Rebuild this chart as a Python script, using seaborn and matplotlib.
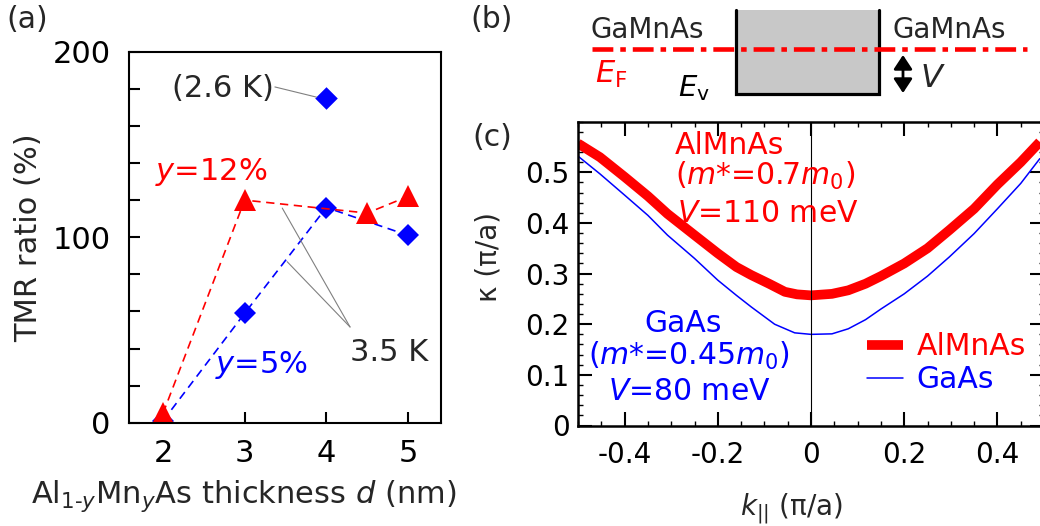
import matplotlib
matplotlib.use("Agg")
import matplotlib.pyplot as plt
import seaborn as sns
from matplotlib.ticker import MultipleLocator, FixedLocator
from matplotlib.patches import Rectangle

# ---------------- data ----------------
# (a) TMR ratio vs Al(1-y)Mn(y)As thickness
d_y5 = [2, 3, 4, 5]
tmr_y5 = [1, 59, 116, 101]
d_y12 = [2, 3, 4.5, 5]
tmr_y12 = [5, 120, 113, 122]
d_2p6K = [4]
tmr_2p6K = [175]

# (c) kappa vs k_parallel
k_almnas = [-0.5, -0.453, -0.4, -0.35, -0.308, -0.25, -0.2, -0.16, -0.128, -0.09,
            -0.056, -0.03, 0.0, 0.045, 0.08, 0.117, 0.15, 0.2, 0.25, 0.297,
            0.35, 0.4, 0.45, 0.491]
kappa_almnas = [0.557, 0.530, 0.491, 0.453, 0.418, 0.376, 0.340, 0.313, 0.297, 0.280,
                0.264, 0.259, 0.257, 0.260, 0.267, 0.280, 0.295, 0.320, 0.350, 0.386,
                0.428, 0.476, 0.520, 0.560]
k_gaas = [-0.5, -0.453, -0.4, -0.35, -0.308, -0.25, -0.2, -0.16, -0.128, -0.078,
          -0.035, 0.0, 0.045, 0.08, 0.117, 0.15, 0.2, 0.25, 0.297, 0.35,
          0.4, 0.45, 0.491]
kappa_gaas = [0.532, 0.497, 0.455, 0.415, 0.376, 0.330, 0.287, 0.257, 0.234, 0.200,
              0.183, 0.180, 0.181, 0.191, 0.209, 0.230, 0.260, 0.295, 0.333, 0.379,
              0.428, 0.478, 0.527]

a_xticks = [2, 3, 4, 5]
a_yticks = [0, 100, 200]
c_xticks = [-0.4, -0.2, 0, 0.2, 0.4]
c_xticklabels = ["-0.4", "-0.2", "0", "0.2", "0.4"]
c_yticks = [0, 0.1, 0.2, 0.3, 0.4, 0.5]
c_yticklabels = ["0", "0.1", "0.2", "0.3", "0.4", "0.5"]

# ---------------- style ----------------
sns.set_style("ticks")
plt.rcParams["font.family"] = ["DejaVu Sans"]
plt.rcParams["mathtext.fontset"] = "dejavusans"
plt.rcParams["axes.unicode_minus"] = False
plt.rcParams["lines.scale_dashes"] = False
plt.rcParams["axes.edgecolor"] = "black"
plt.rcParams["xtick.color"] = "black"
plt.rcParams["ytick.color"] = "black"

W, H = 1040, 526
fig = plt.figure(figsize=(W / 100, H / 100), dpi=100)


def box(l, t, r, b):
    return [l / W, 1 - b / H, (r - l) / W, (b - t) / H]


axa = fig.add_axes(box(128.7, 51.7, 440.7, 422.7))
axc = fig.add_axes(box(578, 121.7, 1044, 425.5))
axb = fig.add_axes([0, 0, 1, 1], zorder=-1)
axb.set_xlim(0, W)
axb.set_ylim(H, 0)
axb.axis("off")

# ---------------- panel (a) ----------------
sns.lineplot(x=d_y5, y=tmr_y5, ax=axa, color="blue", lw=1.2,
             linestyle=(0, (6, 4)), marker="D", markersize=11.5,
             markeredgecolor="blue", markeredgewidth=0, sort=False, estimator=None)
sns.lineplot(x=d_y12, y=tmr_y12, ax=axa, color="red", lw=1.2,
             linestyle=(0, (6, 4)), marker="^", markersize=16.5,
             markeredgecolor="red", markeredgewidth=0, sort=False, estimator=None)
sns.scatterplot(x=d_2p6K, y=tmr_2p6K, ax=axa, marker="D", s=132, color="blue",
                linewidth=0, zorder=3)

axa.set_xlim(1.58, 5.4)
axa.set_ylim(0, 200)
axa.xaxis.set_major_locator(FixedLocator(a_xticks))
axa.yaxis.set_major_locator(FixedLocator(a_yticks))
axa.yaxis.set_minor_locator(MultipleLocator(20))
axa.tick_params(which="both", direction="in", length=8, width=1.5,
                labelsize=22, top=False, right=False)
axa.tick_params(axis="y", which="both", pad=13)
axa.tick_params(axis="x", which="both", pad=12)
for s in axa.spines.values():
    s.set_linewidth(1.5)
axa.set_ylabel("TMR ratio (%)", fontsize=22)
axa.yaxis.set_label_coords(-0.275, 0.5)
axa.set_xlabel(r"Al$_{1\text{-}y}$Mn$_y$As thickness $d$ (nm)", fontsize=22)
axa.xaxis.set_label_coords(0.37, -0.15)

axa.text(2.73, 180.4, "(2.6 K)", ha="center", va="center", fontsize=22)
axa.annotate("", xy=(3.88, 175.5), xytext=(3.37, 181),
             arrowprops=dict(arrowstyle="-", color="gray", lw=0.8, shrinkA=0, shrinkB=0))
axa.text(2.59, 135, r"$y$=12%", color="red", ha="center", va="center", fontsize=22)
axa.text(3.20, 31, r"$y$=5%", color="blue", ha="center", va="center", fontsize=22)
axa.text(4.77, 38, "3.5 K", ha="center", va="center", fontsize=22)
for tgt in [(3.46, 115.7), (3.52, 86.8)]:
    axa.annotate("", xy=tgt, xytext=(4.29, 51.6),
                 arrowprops=dict(arrowstyle="-", color="gray", lw=0.8, shrinkA=0, shrinkB=0))

# ---------------- panel (c) ----------------
sns.lineplot(x=k_almnas, y=kappa_almnas, ax=axc, color="red", lw=7,
             solid_capstyle="butt", solid_joinstyle="round", label="AlMnAs",
             sort=False, estimator=None)
sns.lineplot(x=k_gaas, y=kappa_gaas, ax=axc, color="blue", lw=1.1,
             label="GaAs", sort=False, estimator=None)
axc.axvline(0, color="black", lw=0.8, zorder=3)

axc.set_xlim(-0.5, 0.5)
axc.set_ylim(0, 0.6)
axc.xaxis.set_major_locator(FixedLocator(c_xticks))
axc.set_xticklabels(c_xticklabels)
axc.xaxis.set_minor_locator(MultipleLocator(0.05))
axc.yaxis.set_major_locator(FixedLocator(c_yticks))
axc.set_yticklabels(c_yticklabels)
axc.yaxis.set_minor_locator(MultipleLocator(0.02))
axc.tick_params(which="major", direction="in", length=10, width=1.5,
                labelsize=20, top=True, right=True)
axc.tick_params(which="minor", direction="in", length=3.5, width=1.0,
                top=True, right=True)
axc.tick_params(axis="y", which="both", pad=6)
axc.tick_params(axis="x", which="both", pad=11)
for s in axc.spines.values():
    s.set_linewidth(1.8)
axc.set_ylabel("κ (π/a)", fontsize=20)
axc.yaxis.set_label_coords(-0.161, 0.555)
axc.set_xlabel(r"$k_{||}$ (π/a)", fontsize=20)
axc.xaxis.set_label_coords(0.459, -0.215)

axc.text(-0.293, 0.5367, "AlMnAs", color="red", ha="left", va="baseline", fontsize=21.5)
axc.text(-0.291, 0.4744, r"($m$*=0.7$m_\mathrm{0}$)", color="red", ha="left",
         va="baseline", fontsize=21.5)
axc.text(-0.288, 0.402, r"$V$=110 meV", color="red", ha="left", va="baseline", fontsize=21.5)
axc.text(-0.274, 0.185, "GaAs", color="blue", ha="center", va="baseline", fontsize=21.5)
axc.text(-0.262, 0.119, r"($m$*=0.45$m_\mathrm{0}$)", color="blue", ha="center",
         va="baseline", fontsize=21.5)
axc.text(-0.262, 0.0503, r"$V$=80 meV", color="blue", ha="center", va="baseline", fontsize=21.5)

leg = axc.legend(frameon=False, fontsize=21.5, handlelength=1.2, handletextpad=0.45,
                 labelspacing=0.15, borderpad=0, borderaxespad=0, loc="upper left",
                 bbox_to_anchor=(867 / W, 1 - 332 / H), bbox_transform=fig.transFigure)
for txt, ln in zip(leg.get_texts(), leg.get_lines()):
    txt.set_color(ln.get_color())

# ---------------- panel (b): schematic ----------------
barrier_x = [736, 879]
barrier_y = [10, 93.5]
fermi_x = [592, 1027]
fermi_y = [49, 49]
axb.add_patch(Rectangle((barrier_x[0], barrier_y[0]), barrier_x[1] - barrier_x[0],
                        barrier_y[1] - barrier_y[0], facecolor="#c8c8c8", edgecolor="none"))
axb.plot([barrier_x[0], barrier_x[0], barrier_x[1], barrier_x[1]],
         [barrier_y[0], barrier_y[1], barrier_y[1], barrier_y[0]],
         color="black", lw=2.3, solid_joinstyle="miter")
axb.plot(fermi_x, fermi_y, color="red", lw=3.3, linestyle=(0, (15, 5, 4, 5)))
axb.annotate("", xy=(903, 55), xytext=(903, 93),
             arrowprops=dict(arrowstyle="<|-|>,head_length=0.5,head_width=0.33",
                             color="black", lw=2.0, mutation_scale=17,
                             shrinkA=0, shrinkB=0))
axb.text(590, 38.3, "GaMnAs", ha="left", va="baseline", fontsize=20)
axb.text(892, 38.3, "GaMnAs", ha="left", va="baseline", fontsize=20)
axb.text(595, 83.3, r"$E_\mathrm{F}$", color="red", ha="left", va="baseline", fontsize=22)
axb.text(678, 96.7, r"$E_\mathrm{v}$", color="black", ha="left", va="baseline", fontsize=21)
axb.text(920, 87, r"$V$", ha="left", va="baseline", fontsize=23)

# panel labels
axb.text(6, 20, "(a)", ha="left", va="center", fontsize=21.5)
axb.text(470, 20, "(b)", ha="left", va="center", fontsize=21.5)
axb.text(472, 138, "(c)", ha="left", va="center", fontsize=21.5)

fig.savefig("out.png", dpi=100)
